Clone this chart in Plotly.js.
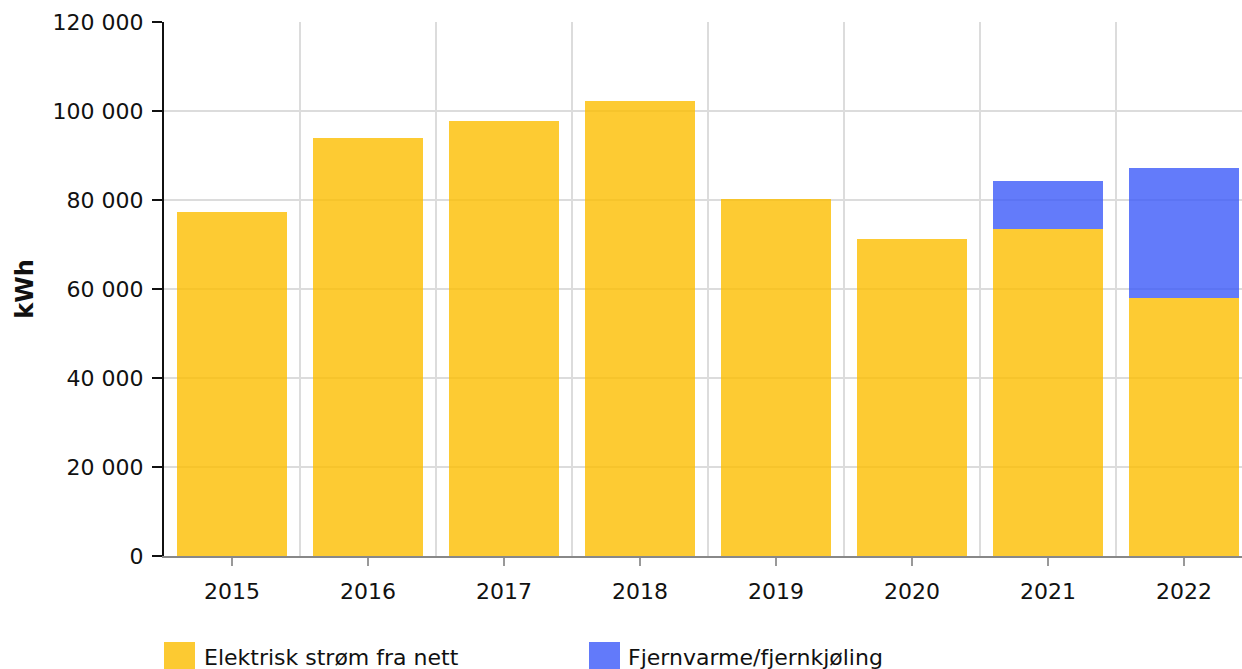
<!DOCTYPE html>
<html>
<head>
<meta charset="utf-8">
<script src="https://cdn.plot.ly/plotly-3.0.1.min.js"></script>
<style>html,body{margin:0;padding:0;background:#fff;}#chart{width:1242px;height:669px;}</style>
</head>
<body>
<div id="chart"></div>
<script>
var years = ['2015', '2016', '2017', '2018', '2019', '2020', '2021', '2022'];
var elektrisk = [77300, 93900, 97750, 102200, 80200, 71200, 73500, 58000];
var fjernvarme = [null, null, null, null, null, null, 10800, 29200];
var seriesNames = ['Elektrisk strøm fra nett', 'Fjernvarme/fjernkjøling'];
var seriesColors = ['#FCBE00', '#3C5AF9'];
var yTicks = [0, 20000, 40000, 60000, 80000, 100000, 120000];

var idx = years.map(function (_, i) { return i; });
var bounds = years.slice(1).map(function (_, i) { return i + 0.5; });
var xr = [-0.5, 7.426];

var traces = [
  {type: 'bar', name: seriesNames[0], x: idx, y: elektrisk, marker: {color: seriesColors[0], opacity: 0.8}, hoverinfo: 'y'},
  {type: 'bar', name: seriesNames[1], x: idx, y: fjernvarme, marker: {color: seriesColors[1], opacity: 0.8}, hoverinfo: 'y'},
  {type: 'scatter', x: idx, y: elektrisk, xaxis: 'x2', mode: 'markers', marker: {opacity: 0}, hoverinfo: 'skip', showlegend: false}
];

var font = {family: 'DejaVu Sans, Verdana, sans-serif', size: 22, color: '#111'};

var annotations = [];
var legX = [0, 0.394];
seriesNames.forEach(function (n, i) {
  annotations.push({xref: 'paper', yref: 'paper', x: legX[i], y: -0.161, xanchor: 'left', yanchor: 'top',
    text: ' ', showarrow: false, width: 28, height: 28, borderpad: 0, bgcolor: seriesColors[i], opacity: 0.8,
    bordercolor: seriesColors[i], borderwidth: 1.5});
  annotations.push({xref: 'paper', yref: 'paper', x: legX[i] + 0.035, y: -0.191, xanchor: 'left', yanchor: 'middle',
    text: n, showarrow: false, font: font});
});

var layout = {
  width: 1242, height: 669,
  margin: {l: 164, r: 0, t: 22, b: 113, pad: 0},
  paper_bgcolor: '#fff', plot_bgcolor: '#fff',
  font: font,
  separators: ', ',
  barmode: 'stack',
  bargap: 0.19,
  showlegend: false,
  xaxis: {
    type: 'linear', range: xr, tickvals: idx, ticktext: years,
    showgrid: false, zeroline: false,
    showline: true, linecolor: '#888', linewidth: 1.5,
    ticks: 'outside', ticklen: 8, tickcolor: '#999', tickwidth: 1.5,
    ticklabelstandoff: 7
  },
  xaxis2: {
    type: 'linear', range: xr, overlaying: 'x', anchor: 'y',
    tickvals: bounds, showticklabels: false, ticks: '',
    showgrid: true, gridcolor: '#dcdcdc', gridwidth: 1.5, zeroline: false, showline: false
  },
  yaxis: {
    range: [0, 120000], tickvals: yTicks, tickformat: ',d',
    showgrid: true, gridcolor: '#dcdcdc', gridwidth: 1.5, zeroline: false,
    showline: true, linecolor: '#111', linewidth: 2,
    ticks: 'outside', ticklen: 10, tickcolor: '#111', tickwidth: 2,
    ticklabelstandoff: 4,
    title: {text: '<b>kWh</b>', font: {family: 'DejaVu Sans, Verdana, sans-serif', size: 24, color: '#111'}, standoff: 12}
  },
  annotations: annotations
};

Plotly.newPlot('chart', traces, layout, {displayModeBar: false, staticPlot: true});
</script>
</body>
</html>
